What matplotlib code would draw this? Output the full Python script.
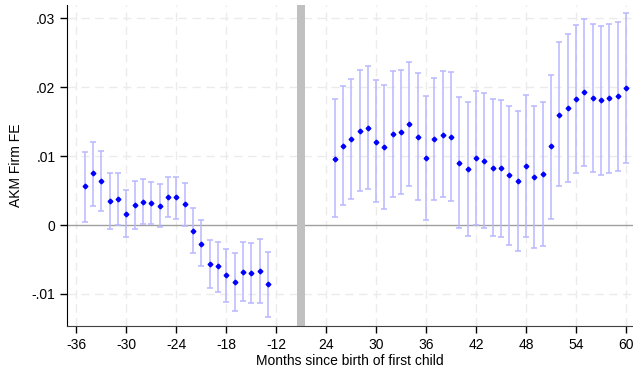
import numpy as np
import matplotlib.pyplot as plt

plt.rcParams['font.family'] = ['Liberation Sans', 'DejaVu Sans']

# event-study estimates, months relative to first birth
pre_months = np.arange(-35, -12)
pre_coef = [0.0056, 0.0075, 0.0064, 0.0035, 0.0038, 0.0016, 0.0029, 0.0034, 0.0032, 0.0028,
            0.0041, 0.0040, 0.0030, -0.0008, -0.0028, -0.0057, -0.0060, -0.0073, -0.0082,
            -0.0068, -0.0069, -0.0067, -0.0086]
pre_hi = [0.0106, 0.0121, 0.0107, 0.0076, 0.0076, 0.0051, 0.0064, 0.0066, 0.0063, 0.0060,
          0.0070, 0.0070, 0.0061, 0.0024, 0.0007, -0.0022, -0.0024, -0.0035, -0.0041,
          -0.0025, -0.0026, -0.0020, -0.0039]
pre_lo = [0.0005, 0.0028, 0.0021, -0.0006, 0.0000, -0.0018, -0.0006, 0.0002, 0.0001, -0.0003,
          0.0011, 0.0009, -0.0001, -0.0040, -0.0060, -0.0092, -0.0097, -0.0112, -0.0124,
          -0.0110, -0.0113, -0.0113, -0.0134]

post_months = np.arange(25, 61)
post_coef = [0.0096, 0.0115, 0.0125, 0.0137, 0.0141, 0.0121, 0.0113, 0.0132, 0.0135, 0.0146,
             0.0128, 0.0097, 0.0124, 0.0131, 0.0128, 0.0090, 0.0081, 0.0097, 0.0093, 0.0083,
             0.0082, 0.0073, 0.0064, 0.0085, 0.0070, 0.0074, 0.0114, 0.0160, 0.0170, 0.0183,
             0.0193, 0.0184, 0.0181, 0.0184, 0.0187, 0.0198]
post_hi = [0.0182, 0.0202, 0.0212, 0.0225, 0.0230, 0.0210, 0.0203, 0.0223, 0.0225, 0.0237,
           0.0220, 0.0187, 0.0213, 0.0223, 0.0222, 0.0185, 0.0178, 0.0195, 0.0192, 0.0182,
           0.0181, 0.0173, 0.0166, 0.0188, 0.0173, 0.0178, 0.0218, 0.0266, 0.0277, 0.0290,
           0.0299, 0.0291, 0.0288, 0.0292, 0.0295, 0.0307]
post_lo = [0.0011, 0.0029, 0.0038, 0.0050, 0.0052, 0.0033, 0.0023, 0.0041, 0.0045, 0.0056,
           0.0036, 0.0007, 0.0036, 0.0040, 0.0035, -0.0004, -0.0016, 0.0000, -0.0005, -0.0016,
           -0.0018, -0.0029, -0.0037, -0.0018, -0.0033, -0.0030, 0.0009, 0.0056, 0.0063, 0.0076,
           0.0086, 0.0077, 0.0073, 0.0076, 0.0079, 0.0090]

gap = 30  # months left out between the two windows
xtick_labels = [-36, -30, -24, -18, -12, 24, 30, 36, 42, 48, 54, 60]
ytick_vals = [-0.01, 0, 0.01, 0.02, 0.03]
ytick_labels = ['-.01', '0', '.01', '.02', '.03']

months = np.concatenate([pre_months, post_months - gap])
coef = np.array(pre_coef + post_coef)
hi = np.array(pre_hi + post_hi)
lo = np.array(pre_lo + post_lo)
xticks = [m if m <= -12 else m - gap for m in xtick_labels]

fig = plt.figure(figsize=(6.33, 3.7), dpi=100)
ax = fig.add_axes([0.1063, 0.1197, 0.8937, 0.8668])

ax.axhline(0, color='#a0a0a0', lw=1, zorder=1)
for y in [-0.01, 0.01, 0.02, 0.03]:
    ax.axhline(y, color='#ebebeb', lw=1, ls=(0, (6, 4)), zorder=0)
for x in xticks:
    ax.axvline(x, color='#ebebeb', lw=1, ls=(0, (6, 4)), zorder=0)

ax.axvspan(-9.5, -8.5, color='#c0c0c0', lw=0, zorder=1)

ax.errorbar(months, coef, yerr=[coef - lo, hi - coef], fmt='none',
            ecolor='#b8b8ff', elinewidth=1.1, capsize=2.3, capthick=1.1, zorder=2)
ax.plot(months, coef, 'D', color='#0000ff', ms=2.4, mec='#0000ff', zorder=3)

ax.set_xlim(-37.1, 30.85)
ax.set_ylim(-0.0146, 0.0319)
ax.set_xticks(xticks)
ax.set_xticklabels([str(v) for v in xtick_labels])
ax.set_yticks(ytick_vals)
ax.set_yticklabels(ytick_labels)
ax.tick_params(labelsize=10, length=5, width=1, colors='black')

for s in ['top', 'right']:
    ax.spines[s].set_visible(False)
ax.spines['bottom'].set_color('#404040')
ax.spines['left'].set_color('black')

ax.set_xlabel('Months since birth of first child', fontsize=10, labelpad=2)
ax.set_ylabel('AKM Firm FE', fontsize=10, labelpad=6)

fig.savefig('out.png', dpi=100)
